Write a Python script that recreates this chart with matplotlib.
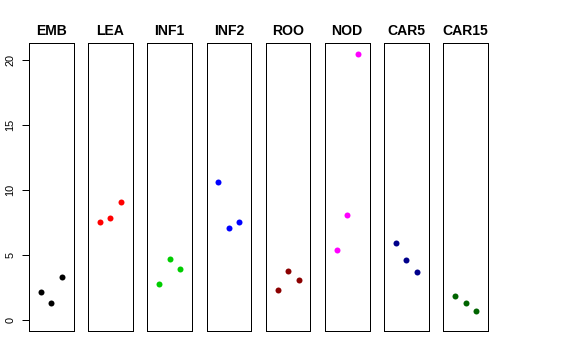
import matplotlib
matplotlib.use("Agg")
import matplotlib.pyplot as plt

plt.rcParams["font.family"] = ["Liberation Sans", "DejaVu Sans"]

# tecidos e valores
tecidos = ["EMB", "LEA", "INF1", "INF2", "ROO", "NOD", "CAR5", "CAR15"]
cores = ["#000000", "#FF0000", "#00CD00", "#0000FF",
         "#8B0000", "#FF00FF", "#00008B", "#006400"]

emb = [2.12, 1.30, 3.30]
lea = [7.52, 7.85, 9.05]
inf1 = [2.74, 4.68, 3.94]
inf2 = [10.59, 7.06, 7.57]
roo = [2.33, 3.76, 3.04]
nod = [5.40, 8.06, 20.44]
car5 = [5.93, 4.60, 3.71]
car15 = [1.87, 1.30, 0.66]

valores = [emb, lea, inf1, inf2, roo, nod, car5, car15]
replicas = [1, 2, 3]
y_ticks = [0, 5, 10, 15, 20]

W, H = 576, 360
fig = plt.figure(figsize=(W / 72, H / 72), dpi=72)

x0, passo, largura = 29.0, 59.2, 44.5
topo, base = 43.3, 331.0

for i, (nome, cor, vals) in enumerate(zip(tecidos, cores, valores)):
    esq = x0 + i * passo
    ax = fig.add_axes([esq / W, (H - base) / H, largura / W, (base - topo) / H])
    ax.plot(replicas, vals, "o", color=cor, markersize=6, markeredgewidth=0)
    ax.set_xlim(-0.11, 4.11)
    ax.set_ylim(-0.85, 21.3)
    ax.set_xticks([])
    ax.set_title(nome, fontsize=14, fontweight="bold", pad=8)
    for s in ax.spines.values():
        s.set_linewidth(1.0)
        s.set_color("black")
    if i == 0:
        ax.set_yticks(y_ticks)
        ax.set_yticklabels([str(t) for t in y_ticks], rotation=90, va="center")
        ax.tick_params(axis="y", length=7.5, width=1.0, pad=6, labelsize=11)
    else:
        ax.set_yticks([])

fig.savefig("out.png", dpi=72)
